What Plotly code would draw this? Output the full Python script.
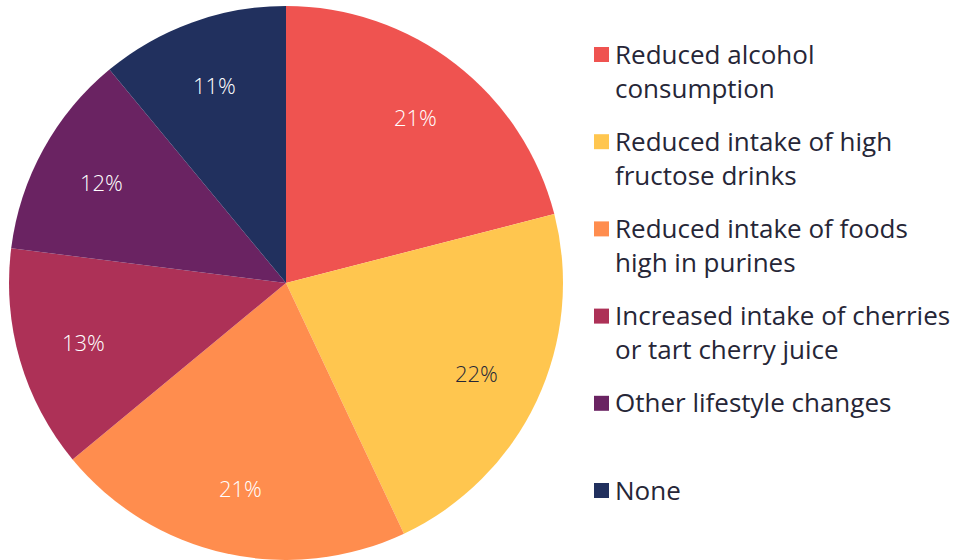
import math
import plotly.graph_objects as go

# Share of respondents by lifestyle change made to manage gout
labels = [
    "Reduced alcohol<br>consumption",
    "Reduced intake of high<br>fructose drinks",
    "Reduced intake of foods<br>high in purines",
    "Increased intake of cherries<br>or tart cherry juice",
    "Other lifestyle changes",
    "None",
]
values = [21, 22, 21, 13, 12, 11]
colors = ["#EF5350", "#FFC64F", "#FF8D4E", "#AD3157", "#6A2362", "#21305E"]
text_colors = ["#FFFFFF", "#262637", "#FFFFFF", "#FFFFFF", "#FFFFFF", "#FFFFFF"]

W, H = 957, 560
cx, cy, r = 286, 283, 277          # pie centre and radius in pixels
label_r = 0.76                      # radial position of the percentage labels
FONT = "Open Sans"
TEXT = "#262637"


def px(x):
    return x / W


def py(y):
    return (H - y) / H


fig = go.Figure(
    go.Pie(
        labels=labels,
        values=values,
        sort=False,
        direction="clockwise",
        rotation=0,
        marker=dict(colors=colors, line=dict(width=0)),
        textinfo="none",
        domain=dict(x=[px(cx - r), px(cx + r)], y=[py(cy + r), py(cy - r)]),
        hoverinfo="label+percent",
        showlegend=False,
    )
)

# Percentage labels at the middle angle of each slice
total = sum(values)
cum = 0
for v, tc in zip(values, text_colors):
    mid = (cum + v / 2) / total * 2 * math.pi
    cum += v
    lx = cx + label_r * r * math.sin(mid)
    ly = cy - label_r * r * math.cos(mid)
    fig.add_annotation(
        x=px(lx), y=py(ly), xref="paper", yref="paper",
        text=f"{round(v / total * 100)}%", showarrow=False,
        xanchor="center", yanchor="middle",
        font=dict(family=FONT, size=22, color=tc, weight=300),
    )

# Legend: coloured square plus wrapped label for each slice
leg_top, leg_step, sq = 54.5, 87.2, 15
for i, (lab, col) in enumerate(zip(labels, colors)):
    yc = leg_top + leg_step * i
    fig.add_shape(
        type="rect", xref="paper", yref="paper",
        x0=px(594), x1=px(594 + sq), y0=py(yc + sq / 2), y1=py(yc - sq / 2),
        fillcolor=col, line=dict(width=0),
    )
    fig.add_annotation(
        x=px(613), y=py(yc - 21), xref="paper", yref="paper",
        text=lab, showarrow=False, align="left",
        xanchor="left", yanchor="top",
        font=dict(family=FONT, size=26, color=TEXT),
    )

fig.update_layout(
    width=W,
    height=H,
    margin=dict(l=0, r=0, t=0, b=0),
    paper_bgcolor="white",
    plot_bgcolor="white",
    font=dict(family=FONT, color=TEXT),
    showlegend=False,
)

fig.write_html("out.html")
